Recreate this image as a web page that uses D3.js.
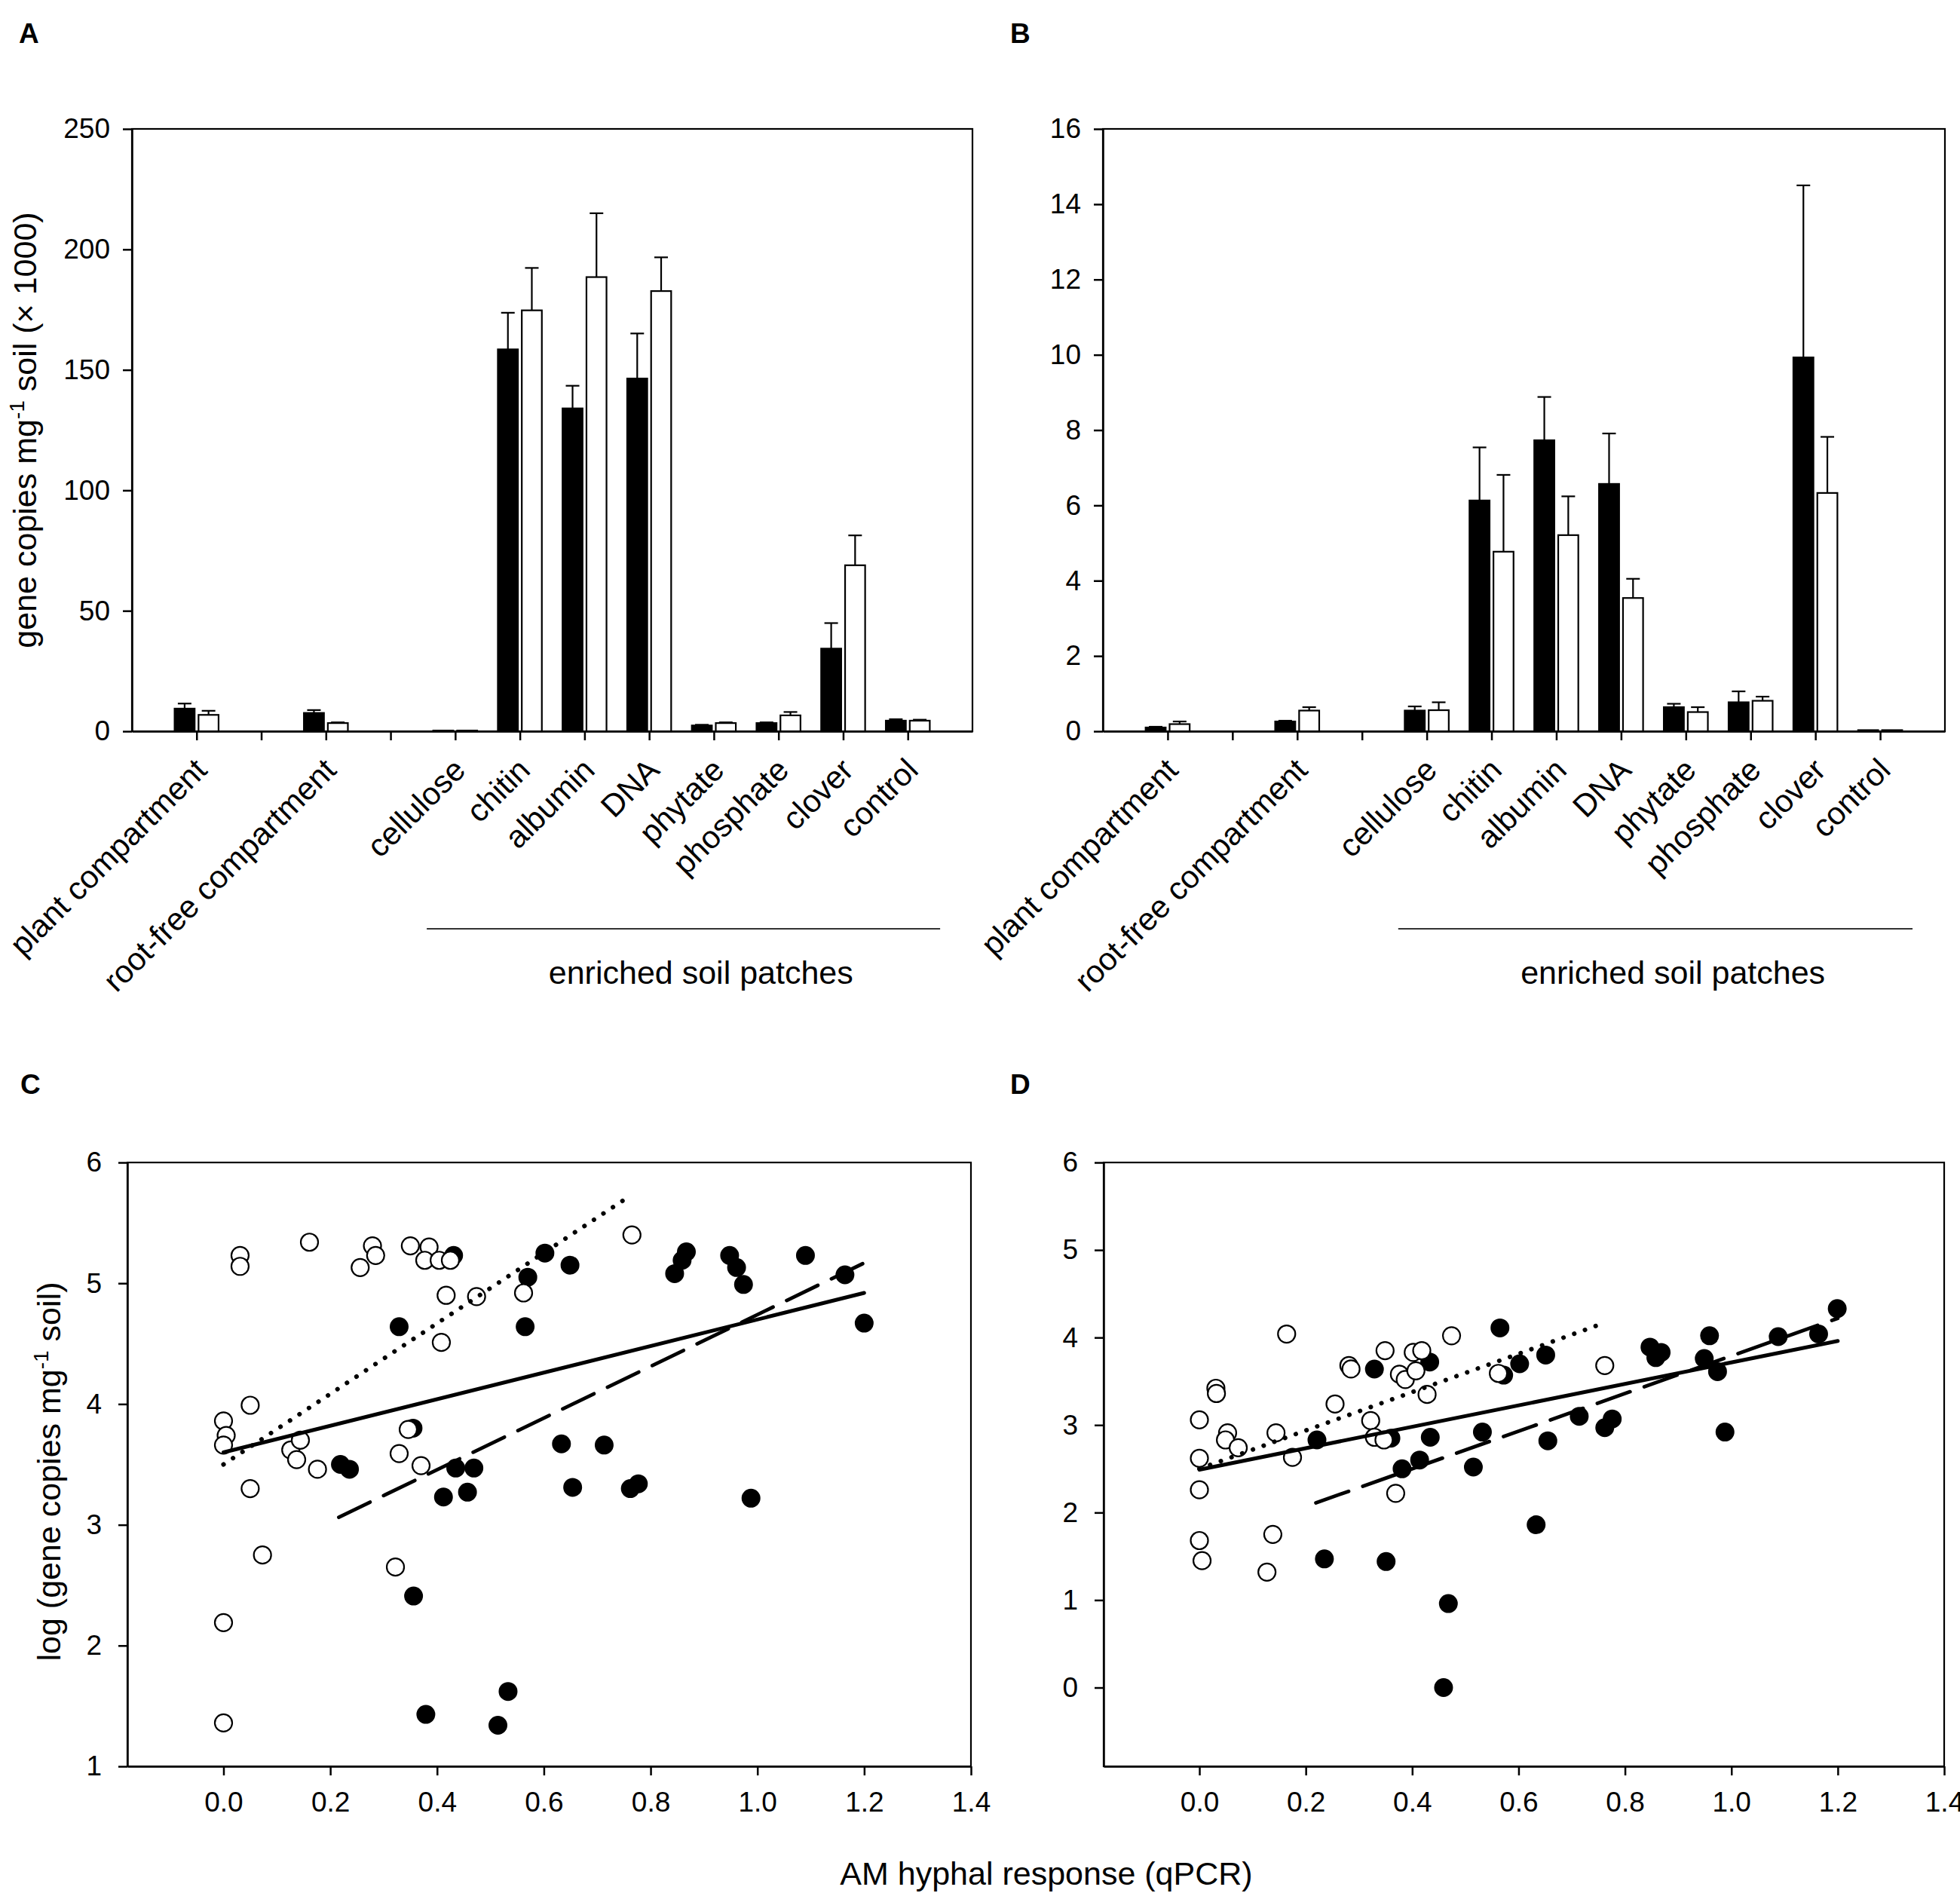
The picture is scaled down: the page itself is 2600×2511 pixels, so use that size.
<!DOCTYPE html>
<html>
<head>
<meta charset="utf-8">
<script src="https://cdn.jsdelivr.net/npm/d3@7"></script>
<style>
  body { margin: 0; background: #fff; }
  svg { display: block; }
  text { font-family: "Liberation Sans", Arial, sans-serif; fill: #000; }
</style>
</head>
<body>
<svg id="fig" width="2600" height="2511"></svg>
<script>
// categories of the bar panels; empty strings are the spacer slots
var categories = ["plant compartment", "", "root-free compartment", "", "cellulose", "chitin",
                  "albumin", "DNA", "phytate", "phosphate", "clover", "control"];

// panel A (gene copies x 1000), black / white bars with upper SE
var aBlack   = [9.4, null, 7.6, null, 0.3, 158.5, 134.0, 146.4, 2.4, 3.4, 34.3, 4.4];
var aBlackSe = [2.1, null, 1.2, null, 0.0, 15.2, 9.4, 18.7, 0.3, 0.3, 10.6, 0.6];
var aWhite   = [6.8, null, 3.4, null, 0.3, 174.7, 188.5, 182.7, 3.4, 6.6, 68.9, 4.4];
var aWhiteSe = [1.7, null, 0.3, null, 0.0, 17.6, 26.5, 14.0, 0.3, 1.4, 12.4, 0.4];

// panel B
var bBlack   = [0.10, null, 0.26, null, 0.55, 6.13, 7.73, 6.57, 0.64, 0.77, 9.93, 0.03];
var bBlackSe = [0.02, null, 0.02, null, 0.11, 1.41, 1.15, 1.34, 0.09, 0.29, 4.57, 0.0];
var bWhite   = [0.19, null, 0.55, null, 0.56, 4.77, 5.21, 3.54, 0.51, 0.81, 6.33, 0.03];
var bWhiteSe = [0.07, null, 0.09, null, 0.21, 2.04, 1.03, 0.51, 0.13, 0.11, 1.49, 0.0];

var groupLabel = "enriched soil patches";
var groupSpan = [4.56, 12.5];   // category-axis units covered by the group line

// panel C scatter: [AM hyphal response, log gene copies]
var cOpen = [[0,1.36],[0,2.19],[0,3.86],[0.005,3.74],[0,3.66],[0.05,3.99],[0.05,3.30],[0.073,2.75],
             [0.031,5.23],[0.031,5.14],[0.161,5.34],[0.126,3.62],[0.144,3.70],[0.137,3.54],[0.176,3.46],
             [0.256,5.13],[0.279,5.31],[0.285,5.23],[0.322,2.65],[0.329,3.59],[0.35,5.31],[0.346,3.79],
             [0.385,5.30],[0.377,5.19],[0.404,5.19],[0.425,5.19],[0.37,3.49],[0.408,4.51],[0.417,4.90],
             [0.474,4.89],[0.562,4.92],[0.765,5.40]];
var cFilled = [[0.431,5.23],[0.329,4.64],[0.602,5.25],[0.649,5.15],[0.570,5.05],[0.565,4.64],
               [0.845,5.08],[0.859,5.19],[0.867,5.26],[0.948,5.23],[0.961,5.13],[0.974,4.99],
               [1.090,5.23],[1.164,5.07],[1.200,4.67],[0.219,3.50],[0.236,3.46],[0.435,3.47],
               [0.469,3.47],[0.412,3.23],[0.457,3.27],[0.633,3.67],[0.713,3.66],[0.654,3.31],
               [0.762,3.30],[0.777,3.34],[0.988,3.22],[0.356,2.41],[0.533,1.62],[0.379,1.43],
               [0.514,1.34],[0.355,3.80]];
// regression lines: [x from, x to, intercept, slope]
var cFitAll    = [0, 1.2, 3.60, 1.10];
var cFitOpen   = [0, 0.76, 3.50, 2.92];
var cFitFilled = [0.216, 1.203, 2.60, 2.14];

// panel D scatter
var dOpen = [[0,3.06],[0,2.62],[0,2.26],[0,1.68],[0.005,1.45],[0.031,3.42],[0.032,3.36],[0.053,2.91],
             [0.049,2.83],[0.073,2.74],[0.164,4.04],[0.144,2.91],[0.175,2.63],[0.138,1.75],[0.127,1.32],
             [0.255,3.24],[0.281,3.68],[0.285,3.64],[0.322,3.05],[0.329,2.86],[0.349,3.85],[0.347,2.83],
             [0.369,2.22],[0.376,3.58],[0.387,3.52],[0.402,3.83],[0.407,3.62],[0.418,3.85],[0.428,3.35],
             [0.474,4.02],[0.562,3.59],[0.762,3.68]];
var dFilled = [[0.221,2.83],[0.235,1.47],[0.329,3.64],[0.351,1.44],[0.36,2.85],[0.381,2.50],
               [0.414,2.60],[0.433,3.72],[0.434,2.86],[0.468,0.96],[0.459,0.0],[0.515,2.52],
               [0.532,2.92],[0.565,4.11],[0.572,3.57],[0.602,3.70],[0.651,3.80],[0.633,1.86],
               [0.655,2.82],[0.714,3.10],[0.762,2.97],[0.776,3.07],[0.847,3.89],[0.858,3.77],
               [0.868,3.83],[0.949,3.76],[0.959,4.02],[0.974,3.61],[0.988,2.92],[1.088,4.01],
               [1.164,4.04],[1.199,4.33]];
var dFitAll    = [0, 1.2, 2.49, 1.225];
var dFitOpen   = [0, 0.76, 2.50, 2.19];
var dFitFilled = [0.219, 1.2, 1.64, 2.15];

var xTicksScatter = [0, 0.2, 0.4, 0.6, 0.8, 1.0, 1.2, 1.4];

var svg = d3.select('#fig');
var TICK_FONT = 37, LABEL_FONT = 43, CAT_FONT = 42;

function styleAxis(g) {
    g.attr('font-family', null).attr('font-size', null);
    g.select('.domain').attr('stroke', '#000').attr('stroke-width', 2.5);
    g.selectAll('.tick line').attr('stroke', '#000').attr('stroke-width', 2.5);
    g.selectAll('.tick text').attr('font-size', TICK_FONT).attr('fill', '#000');
}

function frame(box) {
    svg.append('rect')
        .attr('x', box.x0).attr('y', box.y0)
        .attr('width', box.x1 - box.x0).attr('height', box.y1 - box.y0)
        .attr('fill', 'none').attr('stroke', '#000').attr('stroke-width', 2.2);
}

function panelLetter(letter, x, y) {
    svg.append('text').attr('x', x).attr('y', y)
        .attr('font-size', 37).attr('font-weight', 'bold').text(letter);
}

// bar chart with two series and upward error bars
function barPanel(box, yMax, yStep, black, blackSe, white, whiteSe) {
    var x = d3.scaleLinear().domain([0, categories.length + 1]).range([box.x0, box.x1]);
    var y = d3.scaleLinear().domain([0, yMax]).range([box.y1, box.y0]);
    frame(box);

    var series = [
        {vals: black, se: blackSe, fill: '#000', off0: -0.34, off1: -0.03},
        {vals: white, se: whiteSe, fill: '#fff', off0: 0.03, off1: 0.34}
    ];
    series.forEach(function(s) {
        var rows = s.vals.map(function(v, i) { return {i: i + 1, v: v, se: s.se[i]}; })
                         .filter(function(d) { return d.v != null; });
        var g = svg.append('g');
        g.selectAll('rect').data(rows).enter().append('rect')
            .attr('x', function(d) { return x(d.i + s.off0); })
            .attr('width', function(d) { return x(d.i + s.off1) - x(d.i + s.off0); })
            .attr('y', function(d) { return y(d.v); })
            .attr('height', function(d) { return y(0) - y(d.v); })
            .attr('fill', s.fill).attr('stroke', '#000').attr('stroke-width', 2.2);
        var e = g.selectAll('g.err').data(rows.filter(function(d) { return d.se > 0; }))
            .enter().append('g').attr('class', 'err');
        e.append('line')
            .attr('x1', function(d) { return x(d.i + (s.off0 + s.off1) / 2); })
            .attr('x2', function(d) { return x(d.i + (s.off0 + s.off1) / 2); })
            .attr('y1', function(d) { return y(d.v); })
            .attr('y2', function(d) { return y(d.v + d.se); })
            .attr('stroke', '#000').attr('stroke-width', 2.2);
        e.append('line')
            .attr('x1', function(d) { return x(d.i + (s.off0 + s.off1) / 2) - 9; })
            .attr('x2', function(d) { return x(d.i + (s.off0 + s.off1) / 2) + 9; })
            .attr('y1', function(d) { return y(d.v + d.se); })
            .attr('y2', function(d) { return y(d.v + d.se); })
            .attr('stroke', '#000').attr('stroke-width', 2.2);
    });

    svg.append('g').attr('transform', 'translate(' + box.x0 + ',0)')
        .call(d3.axisLeft(y).tickValues(d3.range(0, yMax + 1e-9, yStep)).tickFormat(d3.format('d'))
              .tickSize(12).tickPadding(17).tickSizeOuter(0))
        .call(styleAxis);
    svg.append('g').attr('transform', 'translate(0,' + box.y1 + ')')
        .call(d3.axisBottom(x).tickValues(d3.range(1, categories.length + 1))
              .tickFormat('').tickSize(12).tickSizeOuter(0))
        .call(styleAxis);

    // slanted category labels
    svg.append('g').selectAll('text').data(categories).enter().append('text')
        .attr('transform', function(d, i) {
            return 'translate(' + (x(i + 1) + 16) + ',' + (box.y1 + 54) + ') rotate(-45)';
        })
        .attr('text-anchor', 'end').attr('font-size', CAT_FONT)
        .text(function(d) { return d; });

    svg.append('line')
        .attr('x1', x(groupSpan[0])).attr('x2', x(groupSpan[1]))
        .attr('y1', 1232).attr('y2', 1232)
        .attr('stroke', '#333').attr('stroke-width', 2.2);
    svg.append('text').attr('x', x(8.8)).attr('y', 1305)
        .attr('text-anchor', 'middle').attr('font-size', LABEL_FONT).text(groupLabel);
}

// scatter with open / filled points and three regression lines
function scatterPanel(box, yDomain, yTicks, open, filled, fitAll, fitOpen, fitFilled) {
    var x = d3.scaleLinear().domain([-0.18, 1.4]).range([box.x0, box.x1]);
    var y = d3.scaleLinear().domain(yDomain).range([box.y1, box.y0]);
    frame(box);

    svg.append('g').selectAll('circle').data(filled).enter().append('circle')
        .attr('cx', function(d) { return x(d[0]); })
        .attr('cy', function(d) { return y(d[1]); })
        .attr('r', 11.5).attr('fill', '#000').attr('stroke', '#000').attr('stroke-width', 2);
    svg.append('g').selectAll('circle').data(open).enter().append('circle')
        .attr('cx', function(d) { return x(d[0]); })
        .attr('cy', function(d) { return y(d[1]); })
        .attr('r', 11.5).attr('fill', '#fff').attr('stroke', '#000').attr('stroke-width', 2.2);

    var fits = [
        {f: fitAll, dash: null, w: 5},
        {f: fitOpen, dash: '0.1 15', w: 6},
        {f: fitFilled, dash: '46 20', w: 4.8}
    ];
    fits.forEach(function(l) {
        var pts = [l.f[0], l.f[1]].map(function(v) { return [v, l.f[2] + l.f[3] * v]; });
        svg.append('path')
            .attr('d', d3.line().x(function(d) { return x(d[0]); }).y(function(d) { return y(d[1]); })(pts))
            .attr('fill', 'none').attr('stroke', '#000').attr('stroke-width', l.w)
            .attr('stroke-linecap', 'round')
            .attr('stroke-dasharray', l.dash);
    });

    svg.append('g').attr('transform', 'translate(' + box.x0 + ',0)')
        .call(d3.axisLeft(y).tickValues(yTicks).tickFormat(d3.format('d'))
              .tickSize(12).tickPadding(22).tickSizeOuter(0))
        .call(styleAxis);
    svg.append('g').attr('transform', 'translate(0,' + box.y1 + ')')
        .call(d3.axisBottom(x).tickValues(xTicksScatter).tickFormat(d3.format('.1f'))
              .tickSize(12).tickPadding(22).tickSizeOuter(0))
        .call(styleAxis);
}

var boxA = {x0: 175, x1: 1290, y0: 171, y1: 970};
var boxB = {x0: 1463, x1: 2580, y0: 171, y1: 970};
var boxC = {x0: 169, x1: 1288, y0: 1542, y1: 2343};
var boxD = {x0: 1464, x1: 2579, y0: 1542, y1: 2343};

barPanel(boxA, 250, 50, aBlack, aBlackSe, aWhite, aWhiteSe);
barPanel(boxB, 16, 2, bBlack, bBlackSe, bWhite, bWhiteSe);
scatterPanel(boxC, [1, 6], [1, 2, 3, 4, 5, 6], cOpen, cFilled, cFitAll, cFitOpen, cFitFilled);
scatterPanel(boxD, [-0.9, 6], [0, 1, 2, 3, 4, 5, 6], dOpen, dFilled, dFitAll, dFitOpen, dFitFilled);

panelLetter('A', 25, 57);
panelLetter('B', 1340, 57);
panelLetter('C', 27, 1451);
panelLetter('D', 1340, 1451);

// axis titles
var yA = svg.append('text')
    .attr('transform', 'translate(48,' + ((boxA.y0 + boxA.y1) / 2) + ') rotate(-90)')
    .attr('text-anchor', 'middle').attr('font-size', LABEL_FONT);
yA.append('tspan').text('gene copies mg');
yA.append('tspan').attr('dy', -16).attr('font-size', 28).text('-1');
yA.append('tspan').attr('dy', 16).text(' soil (\u00d7 1000)');

var yC = svg.append('text')
    .attr('transform', 'translate(80,1952) rotate(-90)')
    .attr('text-anchor', 'middle').attr('font-size', LABEL_FONT);
yC.append('tspan').text('log (gene copies mg');
yC.append('tspan').attr('dy', -16).attr('font-size', 28).text('-1');
yC.append('tspan').attr('dy', 16).text(' soil)');

svg.append('text').attr('x', 1388).attr('y', 2500)
    .attr('text-anchor', 'middle').attr('font-size', LABEL_FONT)
    .text('AM hyphal response (qPCR)');
</script>
</body>
</html>
